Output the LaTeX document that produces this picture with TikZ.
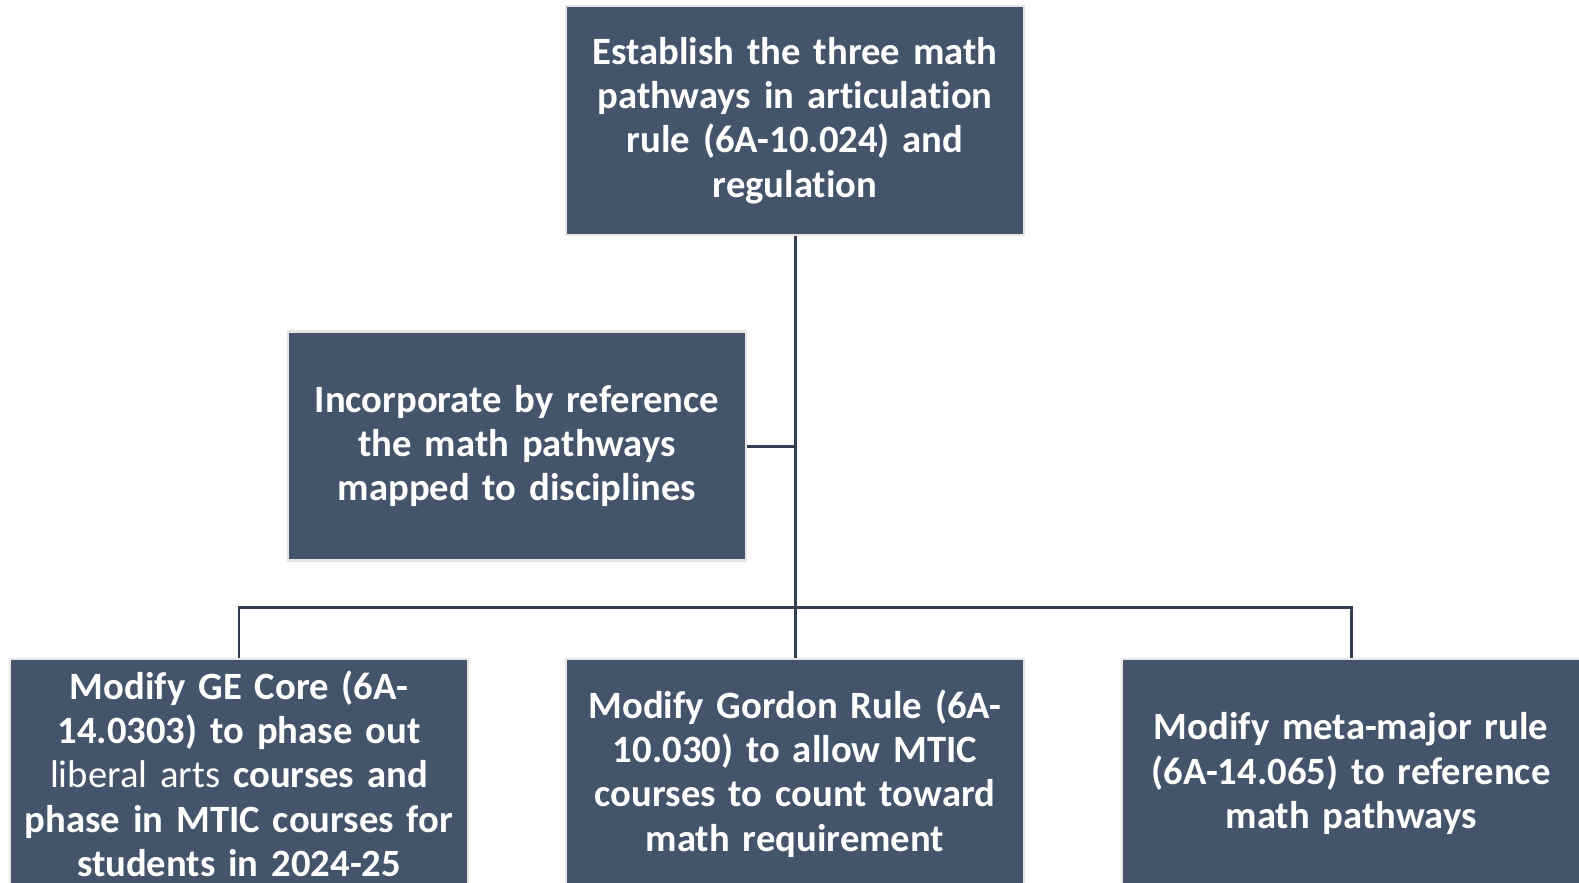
\documentclass[tikz,border=0pt]{standalone}
\usepackage{fontspec}
\setmainfont[Ligatures={NoCommon}]{Carlito}
\usepackage{tikz}
\usepackage{xcolor}
\definecolor{slate}{HTML}{44546A}
\definecolor{slateline}{HTML}{333F50}
\tikzset{
    path-box/.style = {draw=gray!20, fill=slate, line width=0.8pt, rectangle, minimum width=4.58cm, minimum height=2.29cm, text width=4.5cm, align=center, text=white, font=\fontsize{11}{12.6}\selectfont\bfseries, inner sep=0pt},
    path-line/.style = {draw=slateline, line width=0.85pt},
}

\begin{document}
\begin{tikzpicture}
\clip (0,0) rectangle (15.79,-8.82);
\fill[white] (0,0) rectangle (15.79,-8.82);
\node [path-box] (establish) at (7.95,-1.205) {Establish the three math\\ pathways in articulation\\ rule (6A-10.024) and\\ regulation};
\node [path-box] (incorporate) at (5.17,-4.46) {Incorporate by reference\\ the math pathways\\ mapped to disciplines};
\node [path-box] (gecore) at (2.39,-7.735) {Modify GE Core (6A-\\ 14.0303) to phase out\\ {\mdseries liberal arts} courses and\\ phase in MTIC courses for\\ students in 2024-25};
\node [path-box] (gordon) at (7.95,-7.735) {Modify Gordon Rule (6A-\\ 10.030) to allow MTIC\\ courses to count toward\\ math requirement};
\node [path-box] (metamajor) at (13.51,-7.735) {Modify meta-major rule\\ (6A-14.065) to reference\\ math pathways};

\draw [path-line] (establish.south) -- (gordon.north);
\draw [path-line] (incorporate.east) -- (incorporate.east -| establish.south);
\draw [path-line] (gecore.north) -- ++(0,0.5) -| (metamajor.north);
\end{tikzpicture}
\end{document}
